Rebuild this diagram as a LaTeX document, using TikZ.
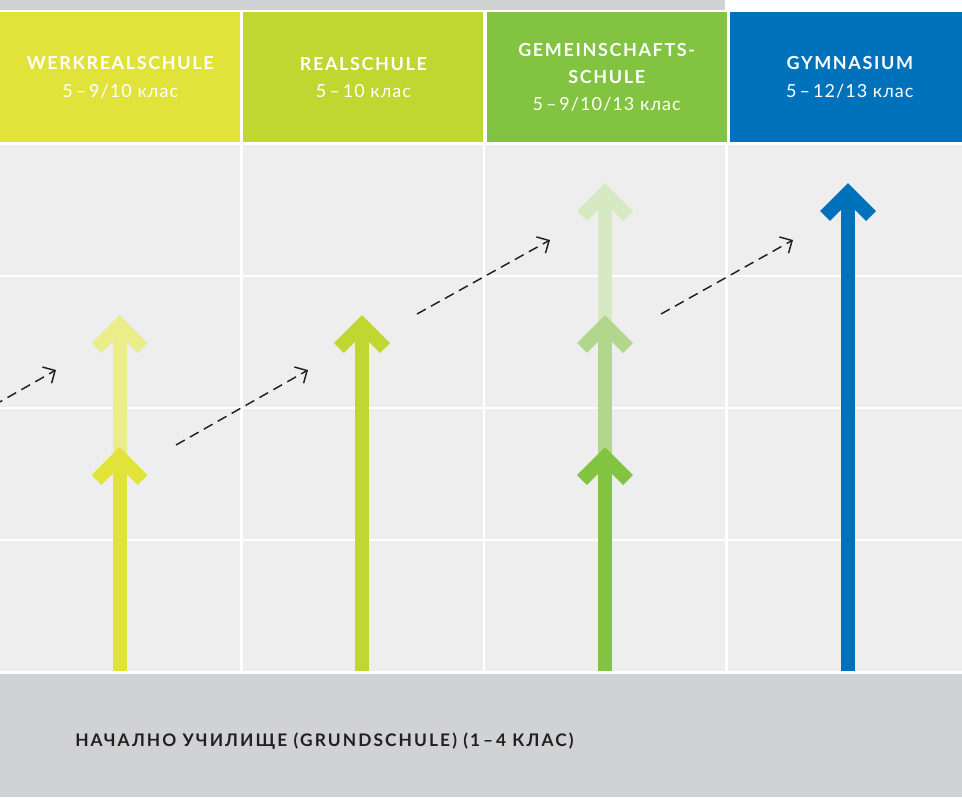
\documentclass[tikz,border=0pt]{standalone}
\usepackage{fontspec}
\setmainfont{Lato}
\newfontfamily\typefont[LetterSpace=9]{Lato}
\newfontfamily\gradefont[LetterSpace=6]{Lato}
\newfontfamily\grundfont[LetterSpace=12]{Lato}
\usetikzlibrary{positioning, arrows.meta}

\definecolor{werkreal}{HTML}{E1E33B}
\definecolor{werkpale}{HTML}{EBEC8A}
\definecolor{realschule}{HTML}{BFD730}
\definecolor{gemeinschaft}{HTML}{82C341}
\definecolor{gemeinmid}{HTML}{B3D68D}
\definecolor{gemeinpale}{HTML}{D7E9C3}
\definecolor{gymnasium}{HTML}{0072BC}
\definecolor{cellgray}{HTML}{EEEEEE}
\definecolor{grundgray}{HTML}{D1D2D4}
\definecolor{textdark}{HTML}{231F20}

\begin{document}
\begin{tikzpicture}[x=0.75pt, y=-0.75pt]
            % Block styles
            \tikzstyle{header} = [rectangle, text=white, align=center, inner sep=0pt, minimum width=180pt, minimum height=97.5pt, font=\fontsize{13.5}{20.5}\selectfont]
            \tikzstyle{shaft} = [line width=10.5pt]
            \tikzstyle{chevron} = [line width=10.5pt, line join=miter]
            \tikzstyle{pathway} = [textdark, line width=1.1pt, dash pattern=on 7.5pt off 4.5pt, -{Straight Barb[length=7pt, width=14pt]}]
            \useasboundingbox (0,0) rectangle (962,797);
            \clip (0,0) rectangle (962,797);
            % Background
            \fill[grundgray] (0,0) rectangle (725,10);
            \fill[grundgray] (0,674) rectangle (962,797);
            \foreach \col in {0,...,3}
                \foreach \row in {0,...,3}
                    \fill[cellgray] ({\col*242.67},{145+\row*132}) rectangle +(240,129.5);
            % School types
            \node[header, fill=werkreal, anchor=north west] (werkreal) at (0,12) {{\typefont\bfseries WERKREALSCHULE}\\\gradefont 5\,–\,9/10 клас};
            \node[header, fill=realschule, right=2pt of werkreal] (realschule) {{\typefont\bfseries REALSCHULE}\\\gradefont 5\,–\,10 клас};
            \node[header, fill=gemeinschaft, right=2pt of realschule] (gemeinschaft) {{\typefont\bfseries GEMEINSCHAFTS-}\\{\typefont\bfseries SCHULE}\\\gradefont 5\,–\,9/10/13 клас};
            \node[header, fill=gymnasium, right=2pt of gemeinschaft] (gymnasium) {{\typefont\bfseries GYMNASIUM}\\\gradefont 5\,–\,12/13 клас};
            \node[anchor=west, text=textdark, inner sep=0pt, font=\grundfont\bfseries\fontsize{13}{15}\selectfont] (grundschule) at (75,741) {НАЧАЛНО УЧИЛИЩЕ (GRUNDSCHULE) (1\,–\,4 КЛАС)};
            % Pathways
            \foreach \x/\tip/\c in {119.5/315/werkpale, 119.5/447/werkreal, 362/315/realschule, 605/183/gemeinpale, 605/315/gemeinmid, 605/447/gemeinschaft, 848/183/gymnasium} {
                \draw[shaft, \c] (\x,671) -- (\x,\tip+12);
                \draw[chevron, \c] (\x-23,\tip+33) -- (\x,\tip+10) -- (\x+23,\tip+33);
            }
            % Transfers
            \coordinate (werk_from) at (-76,445);
            \coordinate (werk_to) at (56,370);
            \coordinate (real_from) at (176,445);
            \coordinate (real_to) at (308,370);
            \coordinate (gemein_from) at (417,314);
            \coordinate (gemein_to) at (550,240);
            \coordinate (gym_from) at (661,314);
            \coordinate (gym_to) at (793,240);
            \draw[pathway] (werk_from) -- (werk_to);
            \draw[pathway] (real_from) -- (real_to);
            \draw[pathway] (gemein_from) -- (gemein_to);
            \draw[pathway] (gym_from) -- (gym_to);
        \end{tikzpicture}
\end{document}
